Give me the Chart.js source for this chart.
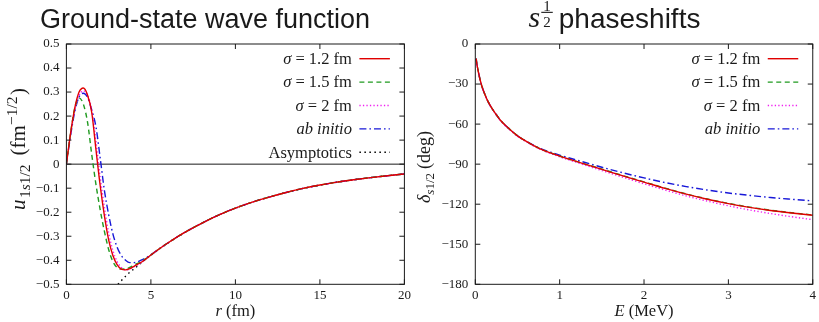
<!DOCTYPE html>
<html>
<head>
<meta charset="utf-8">
<script src="https://cdn.jsdelivr.net/npm/chart.js@4.4.1/dist/chart.umd.min.js"></script>
<style>
  html, body { margin: 0; padding: 0; background: #fff; }
  #wrap { position: relative; width: 819px; height: 322px; overflow: hidden; background: #fff; }
  #waveCanvas { position: absolute; left: 0; top: 0; width: 420px; height: 322px; }
  #phaseCanvas { position: absolute; left: 410px; top: 0; width: 409px; height: 322px; }
</style>
</head>
<body>
<div id="wrap">
  <canvas id="waveCanvas" width="420" height="322"></canvas>
  <canvas id="phaseCanvas" width="409" height="322"></canvas>
</div>
<script>
// ---------- ground-state radial wave function u(r), fm^-1/2 ----------
const radius = [0, 0.25, 0.5, 0.75, 1.0, 1.25, 1.5, 1.75, 2.0, 2.25, 2.5, 2.75, 3.0, 3.25, 3.5, 3.75, 4.0,
  4.5, 5, 5.5, 6, 7, 8, 9, 10, 11, 12, 13, 14, 15, 16, 17, 18, 19, 20];
const uSigma12 = [0, 0.13, 0.235, 0.30, 0.317, 0.288, 0.215, 0.06, -0.09, -0.215, -0.315, -0.38, -0.418, -0.437, -0.44, -0.435, -0.425,
  -0.405, -0.378, -0.352, -0.328, -0.284, -0.246, -0.212, -0.183, -0.158, -0.137, -0.118, -0.101, -0.087, -0.075, -0.065, -0.056, -0.048, -0.041];
const uSigma15 = [0, 0.13, 0.235, 0.276, 0.25, 0.175, 0.04, -0.085, -0.19, -0.28, -0.355, -0.405, -0.43, -0.437, -0.436, -0.43, -0.42,
  -0.403, -0.378, -0.352, -0.328, -0.284, -0.246, -0.212, -0.183, -0.158, -0.137, -0.118, -0.101, -0.087, -0.075, -0.065, -0.056, -0.048, -0.041];
const uSigma20 = [0, 0.125, 0.225, 0.285, 0.305, 0.287, 0.225, 0.095, -0.055, -0.18, -0.285, -0.36, -0.405, -0.43, -0.44, -0.437, -0.427,
  -0.406, -0.378, -0.352, -0.328, -0.284, -0.246, -0.212, -0.183, -0.158, -0.137, -0.118, -0.101, -0.087, -0.075, -0.065, -0.056, -0.048, -0.041];
const uAbInitio = [0, 0.12, 0.22, 0.28, 0.295, 0.278, 0.225, 0.155, 0.025, -0.11, -0.21, -0.29, -0.345, -0.38, -0.40, -0.41, -0.41,
  -0.397, -0.377, -0.352, -0.328, -0.284, -0.246, -0.212, -0.183, -0.158, -0.137, -0.118, -0.101, -0.087, -0.075, -0.065, -0.056, -0.048, -0.041];
const asymRadius = [3.05, 3.25, 3.5, 3.75, 4.0, 4.5, 5, 5.5, 6, 7, 8, 9, 10, 11, 12, 13, 14, 15, 16, 17, 18, 19, 20];
const uAsymptotic = [-0.5, -0.485, -0.466, -0.45, -0.436, -0.407, -0.379, -0.353, -0.329, -0.285, -0.246, -0.212, -0.183,
  -0.158, -0.137, -0.118, -0.101, -0.087, -0.075, -0.065, -0.056, -0.048, -0.041];
const radiusTicks = [0, 20, 5];          // min, max, step
const waveTicks = [-0.5, 0.5, 0.1];

// ---------- s1/2 phase shifts, degrees ----------
const energy = [0.01, 0.02, 0.04, 0.06, 0.08, 0.1, 0.15, 0.2, 0.25, 0.3, 0.4, 0.5, 0.6, 0.75,
  1.0, 1.25, 1.5, 1.75, 2.0, 2.25, 2.5, 2.75, 3.0, 3.25, 3.5, 3.75, 4.0];
const dSigma12 = [-11, -15.5, -22, -27.5, -32, -35.5, -43, -48.5, -53, -57.3, -63.5, -68.8, -72.8, -78,
  -84, -89, -93.9, -98.8, -103.5, -108.2, -112.5, -116.3, -119.6, -122.4, -124.7, -126.6, -128.3];
const dSigma15 = [-11, -15.5, -22, -27.5, -32, -35.5, -43, -48.5, -53, -57.2, -63.4, -68.7, -72.7, -77.9,
  -83.9, -88.9, -93.7, -98.6, -103.3, -108.0, -112.3, -116.1, -119.4, -122.2, -124.5, -126.4, -128.1];
const dSigma20 = [-11, -15.5, -22, -27.6, -32.1, -35.6, -43.2, -48.7, -53.3, -57.6, -63.8, -69.1, -73.1, -78.3,
  -84.5, -89.7, -94.8, -99.8, -104.7, -109.45, -113.8, -117.7, -121.2, -124.3, -127.0, -129.4, -131.6];
const dAbInitio = [-11, -15.5, -22, -27.5, -32, -35.5, -43, -48.5, -53, -57.3, -63.4, -68.7, -72.7, -77.7,
  -83.2, -87.8, -92.3, -96.5, -100.3, -103.8, -106.8, -109.4, -111.6, -113.4, -115.0, -116.3, -117.5];
const energyTicks = [0, 4, 1];
const phaseTicks = [-180, 0, 30];

// ---------- fonts and styles ----------
const SERIF = '"Liberation Serif", "Times New Roman", serif';
const SANS = '"Liberation Sans", Arial, Helvetica, sans-serif';
const serif = (size, style) => `${style || ''} ${size}px ${SERIF}`;
const INK = '#1a1a1a';

const STYLE = {
  s12: { color: '#e00000', dash: [] },
  s15: { color: '#1f9a1f', dash: [5, 3.5] },
  s20: { color: '#f020f0', dash: [1.3, 2.2] },
  abi: { color: '#1818d8', dash: [7, 3, 1.6, 3] },
  asym: { color: '#000000', dash: [1.5, 3.5] }
};

const pts = (xs, ys) => xs.map((x, i) => ({ x, y: ys[i] }));
const fmtMinus = (v, digits) => {
  const r = Math.round(v * 1000) / 1000;
  if (r === 0) return '0';
  return (r < 0 ? '\u2212' : '') + Math.abs(r).toFixed(digits);
};

function line(label, xs, ys, st) {
  return {
    label, data: pts(xs, ys), borderColor: st.color, borderDash: st.dash, borderWidth: 1.4,
    pointRadius: 0, fill: false, cubicInterpolationMode: 'monotone'
  };
}

// draw a sequence of text pieces with their own fonts along one baseline
function textRuns(ctx, parts, x, y, align) {
  let total = 0;
  for (const p of parts) { ctx.font = p.font; p.w = ctx.measureText(p.text).width + (p.gap || 0); total += p.w; }
  let cx = align === 'center' ? x - total / 2 : align === 'right' ? x - total : x;
  for (const p of parts) { ctx.font = p.font; ctx.fillText(p.text, cx, y + (p.dy || 0)); cx += p.w; }
  return total;
}

// frame with inward ticks on all four sides, optional y = 0 line
const framePlugin = {
  id: 'frame',
  beforeDatasetsDraw(chart, args, opts) {
    if (!opts.zeroLine) return;
    const { ctx, chartArea: a, scales: { y } } = chart;
    const py = y.getPixelForValue(0);
    ctx.save(); ctx.strokeStyle = INK; ctx.lineWidth = 1;
    ctx.beginPath(); ctx.moveTo(a.left, py); ctx.lineTo(a.right, py); ctx.stroke(); ctx.restore();
  },
  afterDatasetsDraw(chart) {
    const { ctx, chartArea: a, scales: { x, y } } = chart;
    ctx.save(); ctx.strokeStyle = INK; ctx.lineWidth = 1; ctx.setLineDash([]);
    ctx.strokeRect(a.left, a.top, a.right - a.left, a.bottom - a.top);
    ctx.beginPath();
    x.ticks.forEach(t => {
      const px = x.getPixelForValue(t.value);
      ctx.moveTo(px, a.bottom); ctx.lineTo(px, a.bottom - 5);
      ctx.moveTo(px, a.top); ctx.lineTo(px, a.top + 5);
    });
    y.ticks.forEach(t => {
      const py = y.getPixelForValue(t.value);
      ctx.moveTo(a.left, py); ctx.lineTo(a.left + 5, py);
      ctx.moveTo(a.right, py); ctx.lineTo(a.right - 5, py);
    });
    ctx.stroke(); ctx.restore();
  }
};

// key in the upper right corner: text right-aligned, line sample after it
const keyPlugin = {
  id: 'key',
  afterDatasetsDraw(chart, args, opts) {
    const { ctx, chartArea: a } = chart;
    ctx.save(); ctx.textBaseline = 'alphabetic'; ctx.fillStyle = INK;
    opts.entries.forEach((parts, i) => {
      const base = a.top + 20 + i * 23.4;
      textRuns(ctx, parts.map(p => ({ ...p })), a.right - 52.5, base, 'right');
      const ds = chart.data.datasets[i];
      ctx.strokeStyle = ds.borderColor; ctx.lineWidth = ds.borderWidth; ctx.setLineDash(ds.borderDash || []);
      ctx.beginPath(); ctx.moveTo(a.right - 45, base - 5.3); ctx.lineTo(a.right - 14.5, base - 5.3); ctx.stroke();
    });
    ctx.restore();
  }
};

// panel heading and axis titles
const labelsPlugin = {
  id: 'labels',
  afterDraw(chart, args, opts) {
    const { ctx, chartArea: a } = chart;
    ctx.save(); ctx.fillStyle = INK; ctx.textBaseline = 'alphabetic'; ctx.setLineDash([]);
    opts.heading(ctx, a);
    textRuns(ctx, opts.xTitle.map(p => ({ ...p })), (a.left + a.right) / 2, 316, 'center');
    ctx.translate(opts.yTitlePos[0], opts.yTitlePos[1]);
    ctx.rotate(-Math.PI / 2);
    textRuns(ctx, opts.yTitle.map(p => ({ ...p })), 0, 0, 'center');
    ctx.restore();
  }
};

const sigmaEntry = (num) => [
  { text: '\u03C3', font: serif(16.5, 'italic') },
  { text: ' = ' + num + ' fm', font: serif(16.5) }
];
const abInitioEntry = [{ text: 'ab initio', font: serif(16.5, 'italic') }];

function axes(xr, yr, yDigits, chartRight) {
  return {
    x: {
      type: 'linear', min: xr[0], max: xr[1],
      grid: { display: false, drawTicks: false }, border: { display: false },
      ticks: { stepSize: xr[2], autoSkip: false, maxRotation: 0, padding: 3, color: INK,
        font: { family: SERIF, size: 13 }, callback: v => fmtMinus(v, 0) },
      afterFit: s => { s.height = 37.7; }
    },
    y: {
      type: 'linear', min: yr[0], max: yr[1],
      grid: { display: false, drawTicks: false }, border: { display: false },
      ticks: { stepSize: yr[2], autoSkip: false, padding: 7, color: INK,
        font: { family: SERIF, size: 13 }, callback: v => fmtMinus(v, yDigits) },
      afterFit: s => { s.width = chartRight; }
    }
  };
}

Chart.defaults.animation = false;
Chart.defaults.responsive = false;
Chart.defaults.devicePixelRatio = 1;

// ---------- left panel: wave functions ----------
new Chart(document.getElementById('waveCanvas'), {
  type: 'line',
  data: {
    datasets: [
      line('\u03C3 = 1.2 fm', radius, uSigma12, STYLE.s12),
      line('\u03C3 = 1.5 fm', radius, uSigma15, STYLE.s15),
      line('\u03C3 = 2 fm', radius, uSigma20, STYLE.s20),
      line('ab initio', radius, uAbInitio, STYLE.abi),
      line('Asymptotics', asymRadius, uAsymptotic, STYLE.asym)
    ]
  },
  options: {
    layout: { padding: { top: 44, right: 15.6, left: 0, bottom: 0 } },
    scales: axes(radiusTicks, waveTicks, 1, 66.4),
    plugins: {
      legend: { display: false }, tooltip: { enabled: false },
      frame: { zeroLine: true },
      key: { entries: [sigmaEntry('1.2'), sigmaEntry('1.5'), sigmaEntry('2'), abInitioEntry,
        [{ text: 'Asymptotics', font: serif(16.5) }]] },
      labels: {
        heading: (ctx) => {
          ctx.font = `27px ${SANS}`; ctx.textAlign = 'center';
          ctx.fillText('Ground-state wave function', 205, 28);
          ctx.textAlign = 'left';
        },
        xTitle: [{ text: 'r', font: serif(16.5, 'italic') }, { text: ' (fm)', font: serif(16.5) }],
        yTitle: [
          { text: 'u', font: serif(21, 'italic'), gap: 1.5 },
          { text: '1', font: serif(15.5), dy: 5 },
          { text: 's', font: serif(15.5, 'italic'), dy: 5 },
          { text: '1/2', font: serif(15.5), dy: 5, gap: 9 },
          { text: '(fm', font: serif(21) },
          { text: '\u22121/2', font: serif(15.5), dy: -8, gap: 1.5 },
          { text: ')', font: serif(21) }
        ],
        yTitlePos: [25, 149]
      }
    }
  },
  plugins: [framePlugin, keyPlugin, labelsPlugin]
});

// ---------- right panel: phase shifts ----------
new Chart(document.getElementById('phaseCanvas'), {
  type: 'line',
  data: {
    datasets: [
      line('\u03C3 = 1.2 fm', energy, dSigma12, STYLE.s12),
      line('\u03C3 = 1.5 fm', energy, dSigma15, STYLE.s15),
      line('\u03C3 = 2 fm', energy, dSigma20, STYLE.s20),
      line('ab initio', energy, dAbInitio, STYLE.abi)
    ]
  },
  options: {
    layout: { padding: { top: 44, right: 6, left: 0, bottom: 0 } },
    scales: axes(energyTicks, phaseTicks, 0, 65.3),
    plugins: {
      legend: { display: false }, tooltip: { enabled: false },
      frame: { zeroLine: false },
      key: { entries: [sigmaEntry('1.2'), sigmaEntry('1.5'), sigmaEntry('2'), abInitioEntry] },
      labels: {
        heading: (ctx) => {
          // s with a stacked one-half, then the word in sans
          const sFont = serif(30, 'italic'), fFont = serif(15), wFont = `28px ${SANS}`;
          ctx.font = sFont; const sw = ctx.measureText('s').width;
          ctx.font = fFont; const fw = Math.max(ctx.measureText('1').width, ctx.measureText('2').width) + 4;
          ctx.font = wFont; const ww = ctx.measureText('phaseshifts').width;
          const gap = 6;
          let x = 204.5 - (sw + 1 + fw + gap + ww) / 2;
          ctx.textAlign = 'left';
          ctx.font = sFont; ctx.fillText('s', x, 27); x += sw + 1;
          ctx.font = fFont; ctx.textAlign = 'center';
          ctx.fillText('1', x + fw / 2, 10.5);
          ctx.fillText('2', x + fw / 2, 26.5);
          ctx.fillRect(x, 11.8, fw, 1.1);
          ctx.textAlign = 'left'; x += fw + gap;
          ctx.font = wFont; ctx.fillText('phaseshifts', x, 28);
        },
        xTitle: [{ text: 'E', font: serif(16.5, 'italic') }, { text: ' (MeV)', font: serif(16.5) }],
        yTitle: [
          { text: '\u03B4', font: serif(18, 'italic') },
          { text: 's', font: serif(13, 'italic'), dy: 4 },
          { text: '1/2', font: serif(13), dy: 4, gap: 4 },
          { text: '(deg)', font: serif(18) }
        ],
        yTitlePos: [20, 167]
      }
    }
  },
  plugins: [framePlugin, keyPlugin, labelsPlugin]
});
</script>
</body>
</html>
